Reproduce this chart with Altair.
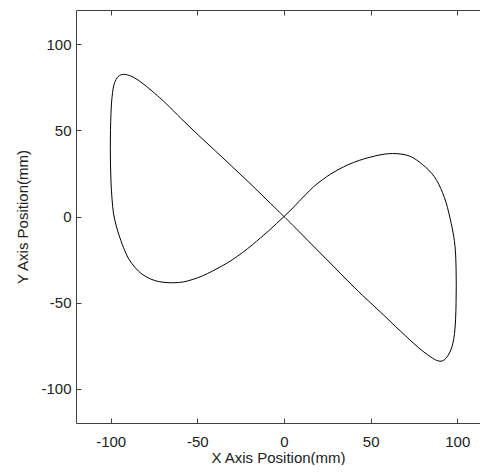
import altair as alt
import pandas as pd

# Trajectory (mm), in drawing order
x_mm = [0, -5.2, -10.4, -20.2, -29.9, -39.5, -49.1, -58.8, -68.4, -73.0, -76.1, -79.2,
        -81.9, -84.8, -87.7, -90.3, -92.8, -94.8, -96.3, -97.4, -98.3, -98.9, -99.5,
        -99.8, -100.1, -100.2, -100.1, -99.8, -99.2, -98.4, -96.9, -94.8, -91.8, -89.6,
        -85.8, -81.9, -77.0, -72.3, -67.5, -63.6, -58.0, -53.0, -47.0, -41.4, -35.5,
        -29.9, -24.0, -18.3, -13.5, -8.7, -4.3, 0,
        4.6, 8.5, 12.5, 17.0, 22.1, 26.8, 31.8, 37.0, 43.4, 48.0, 53.0, 57.8, 62.6,
        67.5, 72.3, 76.3, 79.9, 83.5, 86.7, 89.3, 91.5, 93.5, 95.1, 96.5, 97.5, 98.3,
        98.9, 99.3, 99.4, 99.3, 99.0, 98.4, 97.5, 96.3, 94.5, 92.5, 90.6, 88.0, 85.7,
        82.8, 79.9, 75.0, 70.3, 64.5, 58.8, 52.0, 45.3, 40.5, 35.7, 29.0, 22.1, 16.3,
        10.6, 5.3, 0]
y_mm = [0, 5.1, 10.2, 19.8, 29.0, 38.0, 47.0, 56.4, 66.0, 70.2, 72.9, 75.5,
        77.6, 79.7, 81.3, 82.3, 82.6, 82.0, 80.6, 78.5, 75.8, 72.0, 66.0,
        60.0, 50.0, 40.0, 30.0, 20.0, 10.0, 2.0, -5.0, -12.0, -20.0, -24.6,
        -29.8, -33.5, -36.3, -37.8, -38.4, -38.5, -38.0, -36.7, -34.5, -31.8, -28.6,
        -25.2, -21.0, -16.5, -12.4, -8.2, -4.1, 0,
        4.4, 8.6, 12.7, 17.2, 21.3, 24.6, 27.5, 30.1, 32.6, 34.0, 35.3, 36.2, 36.6,
        36.3, 35.2, 33.0, 30.2, 27.0, 23.2, 18.8, 13.8, 8.2, 2.1, -4.0, -9.0, -14.0,
        -20.0, -30.0, -40.0, -50.0, -60.0, -68.0, -73.5, -77.5, -81.0, -83.3, -84.1, -83.6, -82.3,
        -80.3, -78.1, -73.9, -69.5, -64.1, -58.5, -52.1, -45.8, -41.1, -36.3, -29.4, -22.4, -16.5,
        -10.7, -5.3, 0]
x_ticks = [-100, -50, 0, 50, 100]
y_ticks = [-100, -50, 0, 50, 100]

df = pd.DataFrame({"x": x_mm, "y": y_mm, "step": list(range(len(x_mm)))})

AX = "#404040"
# the reference box (-120..120) runs past the right window edge; only the
# part up to about 113 fits inside the page
xs = alt.Scale(domain=[-120, 113.1], nice=False, zero=False)
ys = alt.Scale(domain=[-120, 120], nice=False, zero=False)

LBL = "'' + datum.value"

base = alt.Chart(df)

main = base.mark_line(color="black", strokeWidth=1, interpolate="catmull-rom").encode(
    x=alt.X("x:Q", scale=xs, title="X Axis Position(mm)",
            axis=alt.Axis(orient="bottom", values=x_ticks, domain=False, grid=False,
                          tickSize=5, offset=-5, tickColor=AX, labelPadding=11,
                          titlePadding=1, labelExpr=LBL)),
    y=alt.Y("y:Q", scale=ys, title="Y Axis Position(mm)",
            axis=alt.Axis(orient="left", values=y_ticks, domain=False, grid=False,
                          tickSize=5, offset=-5, tickColor=AX, labelPadding=5,
                          titlePadding=10, labelExpr=LBL)),
    order=alt.Order("step:Q"),
)

top_ticks = base.mark_line(strokeOpacity=0).encode(
    x=alt.X("x:Q", scale=xs, title=None,
            axis=alt.Axis(orient="top", values=x_ticks, domain=False, grid=False,
                          labels=False, tickSize=5, offset=-5, tickColor=AX)),
    y=alt.Y("y:Q", scale=ys, axis=None),
    order=alt.Order("step:Q"),
)

box_lb = base.mark_line(strokeOpacity=0).encode(
    x=alt.X("x:Q", scale=xs, title=None,
            axis=alt.Axis(orient="bottom", domain=True, domainColor=AX, ticks=False,
                          labels=False, grid=False)),
    y=alt.Y("y:Q", scale=ys, title=None,
            axis=alt.Axis(orient="left", domain=True, domainColor=AX, ticks=False,
                          labels=False, grid=False)),
    order=alt.Order("step:Q"),
)

box_t = base.mark_line(strokeOpacity=0).encode(
    x=alt.X("x:Q", scale=xs, title=None,
            axis=alt.Axis(orient="top", domain=True, domainColor=AX, ticks=False,
                          labels=False, grid=False)),
    y=alt.Y("y:Q", scale=ys, axis=None),
    order=alt.Order("step:Q"),
)

chart = alt.layer(main, top_ticks, box_lb, box_t).resolve_axis(
    x="independent", y="independent"
).properties(
    width=404, height=413,
    autosize=alt.AutoSizeParams(type="none"),
    padding={"left": 68, "top": 2, "right": 0, "bottom": 42},
    background="white",
).configure_axis(
    labelFont="Liberation Sans", labelFontSize=15, labelColor="#222222",
    titleFont="Liberation Sans", titleFontSize=15, titleFontWeight="normal",
    titleColor="#222222",
).configure_view(stroke=None)

chart.save("out.html", embed_options={"renderer": "svg", "actions": False})
